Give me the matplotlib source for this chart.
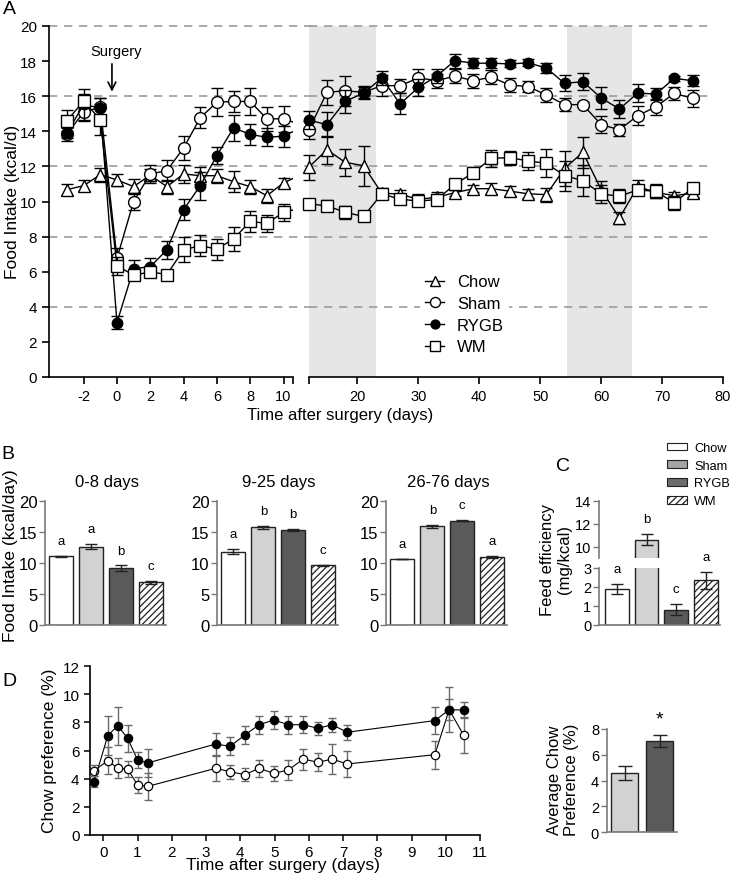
import matplotlib
matplotlib.use("Agg")
import matplotlib.pyplot as plt
from matplotlib.lines import Line2D
from matplotlib.patches import Patch
import numpy as np

plt.rcParams["font.family"] = ["Liberation Sans", "DejaVu Sans"]
plt.rcParams["hatch.linewidth"] = 0.9

# ---------------- panel A: daily food intake ----------------
days_a = [-3, -2, -1, 0, 1, 2, 3, 4, 5, 6, 7, 8, 9, 10,
          12, 15, 18, 21, 24, 27, 30, 33, 36, 39, 42, 45, 48, 51, 54, 57, 60, 63, 66, 69, 72, 75]

chow_a = [10.68, 10.9, 11.53, 11.23, 10.85, 11.5, 10.85, 11.57, 11.47, 11.47, 11.13, 10.85, 10.33, 11.06,
          11.95, 12.95, 12.23, 12.04, 10.47, 10.43, 10.11, 10.25, 10.5, 10.73, 10.73, 10.59, 10.44, 10.39,
          11.89, 12.8, 10.68, 9.06, 10.85, 10.52, 10.33, 10.48]
sham_a = [13.85, 15.09, 15.38, 6.76, 10.0, 11.57, 11.76, 13.05, 14.77, 15.66, 15.7, 15.7, 14.71, 14.71,
          14.07, 16.22, 16.31, 16.22, 16.6, 16.6, 17.04, 16.89, 17.14, 16.89, 17.08, 16.64, 16.55, 16.07,
          15.52, 15.52, 14.38, 14.09, 14.89, 15.4, 16.16, 15.88]
rygb_a = [13.91, 15.53, 15.32, 3.1, 6.18, 6.28, 7.25, 9.53, 10.9, 12.62, 14.2, 13.82, 13.66, 13.72,
          14.64, 14.38, 15.71, 16.17, 17.04, 15.56, 16.5, 17.14, 18.03, 17.88, 17.88, 17.84, 17.9, 17.61,
          16.73, 16.83, 15.9, 15.27, 16.18, 16.12, 17.02, 16.88]
wm_a = [14.61, 15.72, 14.67, 6.34, 5.8, 5.99, 5.84, 7.25, 7.48, 7.29, 7.86, 8.87, 8.75, 9.38,
        9.86, 9.76, 9.38, 9.15, 10.43, 10.14, 10.02, 10.11, 10.97, 11.64, 12.46, 12.5, 12.31, 12.18,
        11.47, 11.19, 10.43, 10.3, 10.66, 10.58, 9.92, 10.77]

chow_a_err = [0.3, 0.3, 0.4, 0.35, 0.45, 0.35, 0.4, 0.5, 0.5, 0.4, 0.6, 0.4, 0.4, 0.3,
              0.7, 0.8, 0.75, 1.15, 0.3, 0.25, 0.3, 0.3, 0.2, 0.2, 0.3, 0.3, 0.25, 0.4, 1.0, 0.9,
              0.5, 0.35, 0.35, 0.2, 0.2, 0.2]
sham_a_err = [0.4, 0.5, 0.5, 0.6, 0.5, 0.5, 0.6, 0.7, 0.6, 0.8, 0.6, 0.75, 0.7, 0.75,
              0.5, 0.7, 0.85, 0.35, 0.6, 0.4, 0.5, 0.4, 0.4, 0.4, 0.4, 0.4, 0.3, 0.4, 0.35, 0.15,
              0.5, 0.35, 0.55, 0.45, 0.35, 0.5]
rygb_a_err = [0.3, 0.9, 0.6, 0.35, 0.5, 0.5, 0.5, 0.6, 0.8, 0.5, 0.75, 0.6, 0.5, 0.6,
              0.5, 0.7, 0.65, 0.35, 0.4, 0.6, 0.5, 0.4, 0.4, 0.3, 0.3, 0.2, 0.2, 0.3, 0.45, 0.5,
              0.65, 0.5, 0.5, 0.35, 0.15, 0.3]
wm_a_err = [0.6, 0.4, 0.9, 0.5, 0.3, 0.3, 0.1, 0.7, 0.6, 0.6, 0.7, 0.6, 0.5, 0.5,
            0.15, 0.3, 0.35, 0.1, 0.3, 0.25, 0.25, 0.25, 0.3, 0.3, 0.5, 0.4, 0.5, 0.8, 0.85, 0.9,
            0.5, 0.4, 0.2, 0.4, 0.4, 0.2]

shaded_periods = [(12.05, 23.0), (54.4, 65.1)]

# ---------------- panel B / C: bar summaries ----------------
groups = ["Chow", "Sham", "RYGB", "WM"]
b_titles = ["0-8 days", "9-25 days", "26-76 days"]
b_means = [[11.05, 12.65, 9.2, 6.9],
           [11.85, 15.75, 15.35, 9.65],
           [10.65, 15.95, 16.85, 10.95]]
b_errs = [[0.1, 0.45, 0.45, 0.25],
          [0.4, 0.25, 0.2, 0.1],
          [0.05, 0.25, 0.1, 0.2]]
b_letters = [["a", "a", "b", "c"],
             ["a", "b", "b", "c"],
             ["a", "b", "c", "a"]]

c_means = [1.9, 10.6, 0.8, 2.35]
c_errs = [0.25, 0.5, 0.3, 0.45]
c_letters = ["a", "b", "c", "a"]

# ---------------- panel D: chow preference ----------------
d_days = [-0.27, 0.13, 0.42, 0.71, 1.0, 1.29, 3.28, 3.7, 4.13, 4.55, 4.98, 5.4, 5.84, 6.27,
          6.68, 7.12, 9.68, 10.1, 10.52]
d_rygb = [3.78, 7.06, 7.77, 6.87, 5.32, 5.11, 6.46, 6.3, 7.1, 7.84, 8.17, 7.84, 7.84, 7.58,
          7.84, 7.3, 8.13, 8.9, 8.89]
d_sham = [4.56, 5.28, 4.73, 4.68, 3.54, 3.44, 4.73, 4.49, 4.28, 4.73, 4.37, 4.61, 5.39, 5.16,
          5.39, 5.04, 5.7, 8.91, 7.1]
d_rygb_err = [0.4, 1.4, 1.35, 0.95, 0.6, 1.0, 0.8, 0.65, 0.65, 0.65, 0.65, 0.65, 0.6, 0.45,
              0.5, 0.55, 0.95, 0.75, 0.55]
d_sham_err = [0.4, 0.95, 0.7, 0.55, 0.6, 0.95, 0.9, 0.5, 0.45, 0.6, 0.55, 0.7, 0.75, 0.65,
              1.05, 0.9, 1.0, 1.6, 1.3]

avg_groups = ["Sham", "RYGB"]
avg_means = [4.6, 7.05]
avg_errs = [0.55, 0.45]

# ---------------- styling ----------------
W, H = 731, 878
SHAM_GRAY = "#d2d2d2"
RYGB_GRAY = "#5a5a5a"
SPINE_GRAY = "#7a7a7a"
bar_colors = ["white", SHAM_GRAY, RYGB_GRAY, "white"]
bar_hatches = [None, None, None, "/////"]
legend_colors = ["white", "#a4a4a4", "#6c6c6c", "white"]

fig = plt.figure(figsize=(W / 100, H / 100), dpi=100)


def px_axes(left, top, right, bottom):
    return fig.add_axes([left / W, 1 - bottom / H, (right - left) / W, (bottom - top) / H])


def px_text(x, y, s, **kw):
    kw.setdefault("ha", "center")
    kw.setdefault("va", "center")
    return fig.text(x / W, 1 - y / H, s, **kw)


# ================= panel A =================
ax1 = px_axes(49, 27, 293, 378)
ax2 = px_axes(309, 27, 723, 378)
ax2.patch.set_visible(False)
ax1.set_xlim(-4.08, 10.57)
ax2.set_xlim(12.05, 80)
for ax in (ax1, ax2):
    ax.set_ylim(0, 20)
    for s in ("top", "right"):
        ax.spines[s].set_visible(False)
    for s in ("left", "bottom"):
        ax.spines[s].set_linewidth(1.2)
    ax.tick_params(direction="out", length=5, width=1.2, labelsize=11)
    ax.tick_params(axis="x", labelsize=10.5, pad=4)
ax2.spines["left"].set_visible(False)
ax2.tick_params(axis="y", left=False, labelleft=False)

for lo, hi in shaded_periods:
    ax2.axvspan(lo, hi, color="#e6e6e6", lw=0, zorder=0)

for y in (4, 8, 12, 16, 20):
    ax1.plot([-4.08, 12.05], [y, y], color="#9c9c9c", ls=(0, (5, 4)), lw=1.2, zorder=1, clip_on=False)
    ax2.plot([12.05, 78.5], [y, y], color="#9c9c9c", ls=(0, (5, 4)), lw=1.2, zorder=1, clip_on=False)

series = [
    ("Chow", chow_a, chow_a_err, "^", "white", 8),
    ("Sham", sham_a, sham_a_err, "o", "white", 8.5),
    ("RYGB", rygb_a, rygb_a_err, "o", "black", 7.5),
    ("WM", wm_a, wm_a_err, "s", "white", 8),
]
days_arr = np.array(days_a)
for k, (name, vals, errs, mk, fc, ms) in enumerate(series):
    vals = np.array(vals)
    errs = np.array(errs)
    z = 3 + k
    for ax, mask, clip in ((ax1, days_arr <= 10, True), (ax2, days_arr >= 12, False)):
        ax.plot(days_arr, vals, color="black", lw=1, zorder=z)
        eb = ax.errorbar(days_arr[mask], vals[mask], yerr=errs[mask], fmt="none", ecolor="black",
                         elinewidth=1, capsize=4, capthick=1, zorder=z)
        for art in eb.get_children():
            art.set_clip_on(clip)
        ax.plot(days_arr[mask], vals[mask], ls="none", marker=mk, mfc=fc, mec="black", mew=1,
                ms=ms, zorder=z + 0.5, clip_on=clip)

ax1.set_xticks([-2, 0, 2, 4, 6, 8, 10, 10.57], labels=["-2", "0", "2", "4", "6", "8", "10", ""])
ax1.set_yticks(range(0, 21, 2))
ax2.set_xticks([12.05, 20, 30, 40, 50, 60, 70, 80],
               labels=["", "20", "30", "40", "50", "60", "70", "80"])

ax1.annotate("", xy=(-0.3, 16.1), xytext=(-0.3, 18.0),
             arrowprops=dict(arrowstyle="->", color="black", lw=1.2, mutation_scale=14))
ax1.text(-0.05, 18.55, "Surgery", ha="center", va="center", fontsize=10.5)

handles = [Line2D([], [], color="black", lw=1, marker=mk, mfc=fc, mec="black", ms=ms * 0.85)
           for _, _, _, mk, fc, ms in series]
ax2.legend(handles, [s[0] for s in series], loc="upper left",
           bbox_to_anchor=(412 / W, 1 - 262 / H), bbox_transform=fig.transFigure,
           fontsize=12, frameon=True, facecolor="white", edgecolor="none", framealpha=1,
           handlelength=1.1, handletextpad=0.8, labelspacing=0.4, borderpad=0.3)

px_text(340, 416, "Time after surgery (days)", fontsize=12)
px_text(13, 202, "Food Intake (kcal/d)", fontsize=12.5, rotation=90)
px_text(9, 9, "A", fontsize=14)


# ================= panel B =================
def style_bar_axes(ax, labelsize):
    for s in ("top", "right"):
        ax.spines[s].set_visible(False)
    for s in ("left", "bottom"):
        ax.spines[s].set_color(SPINE_GRAY)
        ax.spines[s].set_linewidth(1.2)
    ax.tick_params(axis="y", direction="out", length=4, width=1, color=SPINE_GRAY, labelsize=labelsize,
                   pad=1.5)
    ax.tick_params(axis="x", bottom=False, labelbottom=False)


def draw_bars(ax, xpos, means, errs, colors, hatches, width=0.8, capsize=4.5):
    bars = ax.bar(xpos, means, width=width, color=colors, edgecolor="#222222", lw=1, zorder=2)
    for bar, h in zip(bars, hatches):
        if h:
            bar.set_hatch(h)
    ax.errorbar(xpos, means, yerr=errs, fmt="none", ecolor="#222222", elinewidth=1,
                capsize=capsize, capthick=1, zorder=3)
    return bars


xpos = np.arange(len(groups))
b_lefts = [45, 217, 386]
for i, left in enumerate(b_lefts):
    ax = px_axes(left, 502, left + 121, 626)
    style_bar_axes(ax, 12)
    ax.set_xlim(-0.55, 3.5)
    ax.set_ylim(0, 20)
    ax.set_yticks([0, 5, 10, 15, 20])
    draw_bars(ax, xpos, b_means[i], b_errs[i], bar_colors, bar_hatches)
    for x, m, e, lab in zip(xpos, b_means[i], b_errs[i], b_letters[i]):
        ax.annotate(lab, (x, m + e), xytext=(0, 10.5), textcoords="offset points",
                    ha="center", va="center", fontsize=9.5, annotation_clip=False)
    px_text(left + 62, 483, b_titles[i], fontsize=12)

px_text(11, 556, "Food Intake (kcal/day)", fontsize=12.5, rotation=90)
px_text(8, 455, "B", fontsize=14)

# ================= panel C =================
axc_top = px_axes(599, 501.7, 720, 559)
axc_bot = px_axes(599, 569, 720, 625.7)
for ax in (axc_top, axc_bot):
    style_bar_axes(ax, 10.5)
    ax.set_xlim(-0.6, 3.47)
    draw_bars(ax, xpos, c_means, c_errs, bar_colors, bar_hatches)
axc_top.set_ylim(9, 14)
axc_top.set_yticks([10, 12, 14])
axc_top.spines["bottom"].set_visible(False)
axc_bot.set_ylim(0, 3)
axc_bot.set_yticks([0, 1, 2, 3])
for x, m, e, lab in zip(xpos, c_means, c_errs, c_letters):
    target = axc_top if m > 9 else axc_bot
    target.annotate(lab, (x, m + e), xytext=(0, 10.5), textcoords="offset points",
                    ha="center", va="center", fontsize=9.5, annotation_clip=False)

px_text(563, 467, "C", fontsize=14)
px_text(556, 560, "Feed efficiency\n(mg/kcal)", fontsize=12, rotation=90, linespacing=1.1)

leg_handles = [Patch(facecolor=c, edgecolor="#222222", hatch=h, lw=0.8)
               for c, h in zip(legend_colors, bar_hatches)]
fig.legend(leg_handles, groups, loc="upper left", bbox_to_anchor=(658 / W, 1 - 434 / H),
           frameon=False, fontsize=9.2, handlelength=1.6, handleheight=0.55,
           handletextpad=0.55, labelspacing=0.45, borderpad=0.2)

# ================= panel D =================
axd = px_axes(90, 667.3, 480, 835.7)
axd.set_xlim(-0.39, 11)
axd.set_ylim(0, 12)
for s in ("top", "right"):
    axd.spines[s].set_visible(False)
for s in ("left", "bottom"):
    axd.spines[s].set_linewidth(1.2)
axd.tick_params(direction="out", length=4, width=1.1, labelsize=11)
axd.set_xticks(range(0, 12))
axd.set_yticks(range(0, 13, 2))

for vals, errs, fc, z in ((d_sham, d_sham_err, "white", 3), (d_rygb, d_rygb_err, "black", 4)):
    axd.plot(d_days, vals, color="black", lw=0.8, zorder=z)
    axd.errorbar(d_days, vals, yerr=errs, fmt="none", ecolor="#6a6a6a", elinewidth=1,
                 capsize=3, capthick=1, zorder=z)
    axd.plot(d_days, vals, ls="none", marker="o", mfc=fc, mec="black", mew=0.9, ms=6, zorder=z + 0.5,
             clip_on=False)

px_text(283, 866, "Time after surgery (days)", fontsize=12.5)
px_text(50, 751, "Chow preference (%)", fontsize=12.5, rotation=90)
px_text(9, 682, "D", fontsize=14)

axavg = px_axes(606.7, 730, 677, 833.3)
style_bar_axes(axavg, 10.5)
axavg.set_xlim(-0.51, 1.5)
axavg.set_ylim(0, 8)
axavg.set_yticks([0, 2, 4, 6, 8])
draw_bars(axavg, np.arange(2), avg_means, avg_errs, [SHAM_GRAY, RYGB_GRAY], [None, None],
          width=0.77, capsize=5)
axavg.annotate("*", (1, avg_means[1] + avg_errs[1]), xytext=(0, 12), textcoords="offset points",
               ha="center", va="center", fontsize=14, annotation_clip=False)
px_text(563, 780, "Average Chow\nPreference (%)", fontsize=12, rotation=90, linespacing=1.1)

fig.savefig("out.png", dpi=100)
